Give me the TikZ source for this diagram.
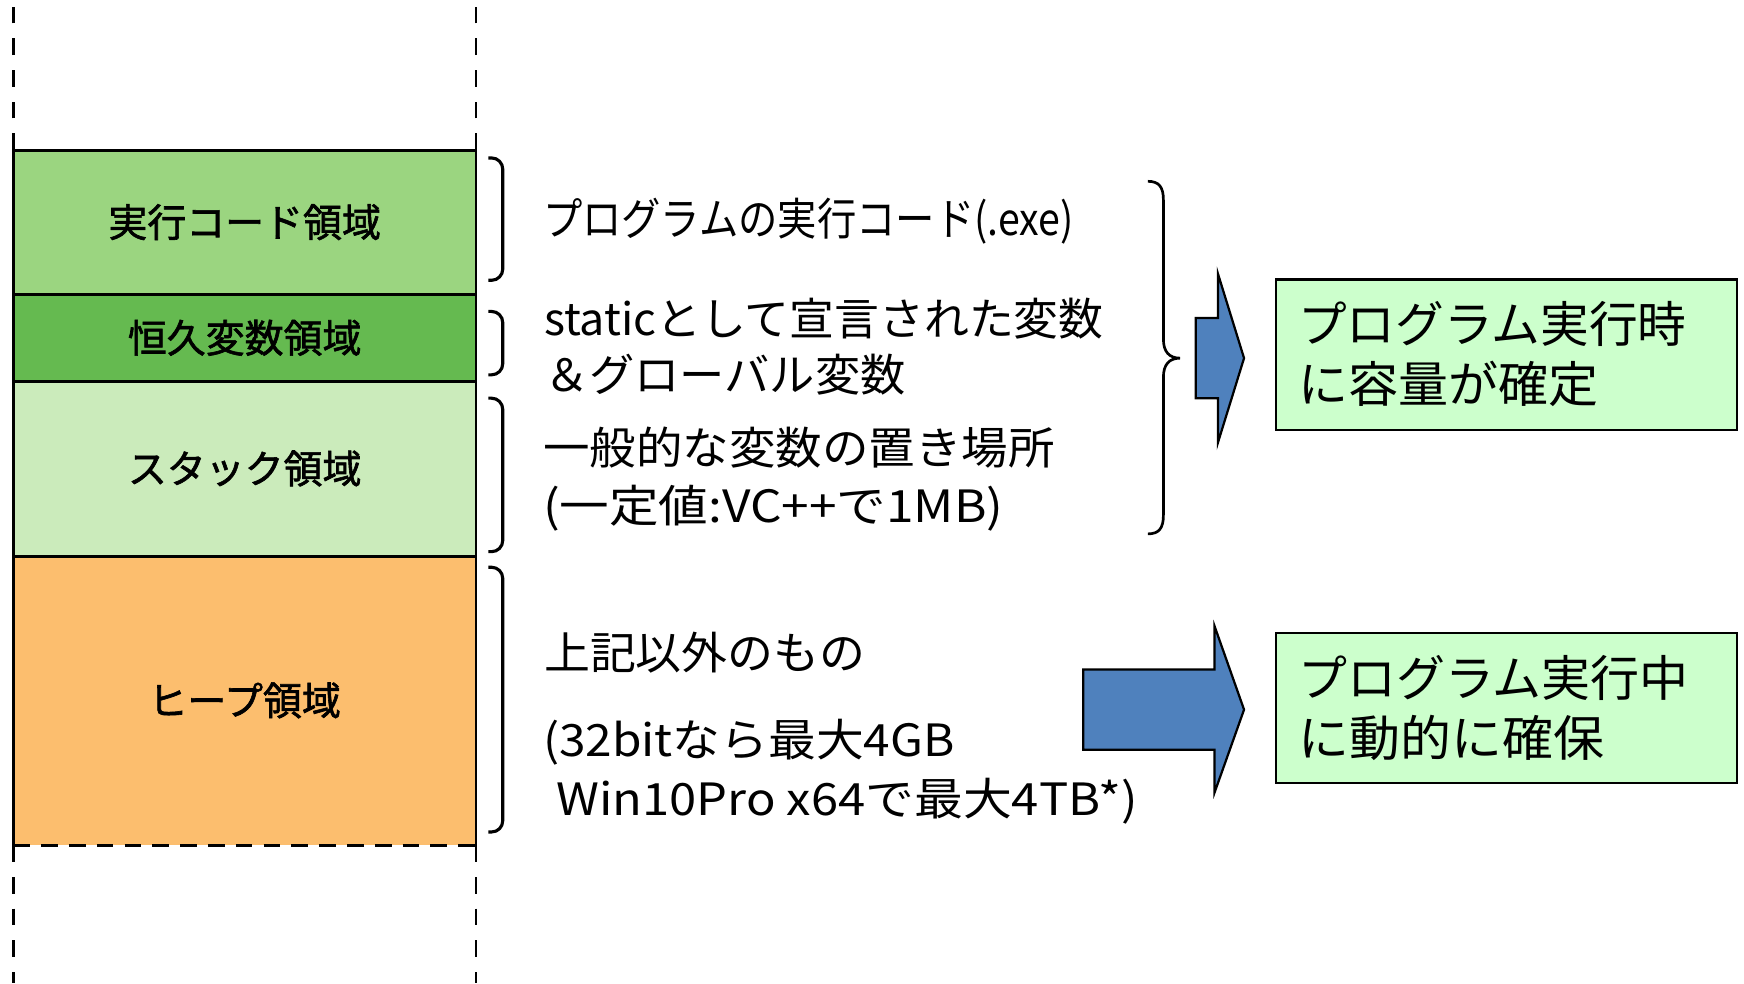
\documentclass[tikz,border=0pt]{standalone}
\usepackage{fontspec}
\setmainfont{Noto Sans CJK JP}
\newfontfamily\jpmed[FakeBold=1.6]{Noto Sans CJK JP}
\usepackage{graphicx}
\newcommand{\fitw}[2]{\resizebox{#1pt}{\height}{#2}}
\definecolor{codeg}{RGB}{155,213,128}
\definecolor{permg}{RGB}{101,186,80}
\definecolor{stackg}{RGB}{203,235,187}
\definecolor{heapo}{RGB}{252,190,110}
\definecolor{rboxg}{RGB}{204,255,204}
\definecolor{arrowb}{RGB}{79,129,189}
\begin{document}
\begin{tikzpicture}[x=1pt,y=-1pt]
\useasboundingbox (0,0) rectangle (1568,884);
\tikzset{
  region/.style={draw=black, line width=2.6pt, minimum width=416pt, inner sep=0pt, outer sep=0pt,
    font=\fontsize{35}{40}\jpmed, text height=28.4pt, text depth=2.5pt},
  midtext/.style={font=\fontsize{40}{46}\selectfont, inner sep=0pt, anchor=west,
    text height=32.4pt, text depth=2.8pt},
  rtext/.style={font=\fontsize{44}{50}\selectfont, inner sep=0pt, anchor=west,
    text height=35.6pt, text depth=3.1pt},
  rbox/.style={draw=black, line width=2pt, fill=rboxg, minimum width=415pt, minimum height=135pt, inner sep=0pt},
  brk/.style={line width=2.8pt, rounded corners=10pt},
  vdash/.style={line width=2.5pt, dash pattern=on 15pt off 13.5pt},
  barrow/.style={draw=black, line width=2pt, fill=arrowb, line join=miter},
}
% memory regions
\node[region, fill=codeg, minimum height=130pt] (code) at (220,200) {実行コード領域};
\node[region, fill=permg, minimum height=78pt] (perm) at (220,304) {恒久変数領域};
\node[region, fill=stackg, minimum height=157pt] (stack) at (220,421.5) {スタック領域};
\node[region, draw=none, fill=heapo, minimum height=260pt] (heap) at (220,630) {ヒープ領域};
\draw[line width=2.6pt] (heap.south west) -- (heap.north west) -- (heap.north east) -- (heap.south east);
\draw[line width=2.5pt, dash pattern=on 15pt off 10pt] (heap.south west) -- (heap.south east);
% dashed continuation lines
\draw[vdash] (code.north west) -- ++(0,-135);
\draw[vdash] (code.north east) -- ++(0,-135);
\draw[vdash] (heap.south west) -- ++(0,124);
\draw[vdash] (heap.south east) -- ++(0,124);
% brackets
\draw[brk] (439,142) -- (452,142) -- (452,252) -- (439,252);
\draw[brk] (439,280) -- (452,280) -- (452,337) -- (439,337);
\draw[brk] (439,358) -- (452,358) -- (452,496) -- (439,496);
\draw[brk] (439,510) -- (452,510) -- (452,748) -- (439,748);
% descriptions
\node[midtext] (t1) at (488,197) {\fitw{477}{プログラムの実行コード(.exe)}};
\node[midtext] (t2) at (489,287) {\fitw{503}{staticとして宣言された変数}};
\node[midtext] (t3) at (489,337) {\fitw{325}{＆グローバル変数}};
\node[midtext] (t4) at (488,403) {\fitw{460}{一般的な変数の置き場所}};
\node[midtext] (t5) at (488,455) {\fitw{414}{(一定値:VC++で1MB)}};
\node[midtext] (t6) at (489,587) {\fitw{289}{上記以外のもの}};
\node[midtext] (t7) at (488,665) {\fitw{370}{(32bitなら最大4GB}};
\node[midtext] (t8) at (500,718) {\fitw{523}{Win10Pro x64で最大4TB*)}};
% big brace
\draw[line width=2.4pt] (1032,163) .. controls (1042,163) and (1046,168) .. (1046,180)
  -- (1046,305) .. controls (1046,316) and (1051,322) .. (1061,322)
  .. controls (1051,322) and (1046,328) .. (1046,339)
  -- (1046,463) .. controls (1046,475) and (1042,480) .. (1032,480);
% block arrows
\draw[barrow] (1075,286) -- (1095,286) -- (1095,246) -- (1118.5,322) -- (1095,398) -- (1095,358) -- (1075,358) -- cycle;
\draw[barrow] (974,602) -- (1092,602) -- (1092,563) -- (1118.5,638) -- (1092,712.5) -- (1092,674) -- (974,674) -- cycle;
% result boxes
\node[rbox] (r1) at (1354.5,318.8) {};
\node[rbox] (r2) at (1354.5,636.8) {};
\node[rtext] (r1a) at (1167,292) {\fitw{349}{プログラム実行時}};
\node[rtext] (r1b) at (1167,346) {\fitw{270}{に容量が確定}};
\node[rtext] (r2a) at (1167,610) {\fitw{351}{プログラム実行中}};
\node[rtext] (r2b) at (1167,664) {\fitw{275}{に動的に確保}};
\end{tikzpicture}
\end{document}
